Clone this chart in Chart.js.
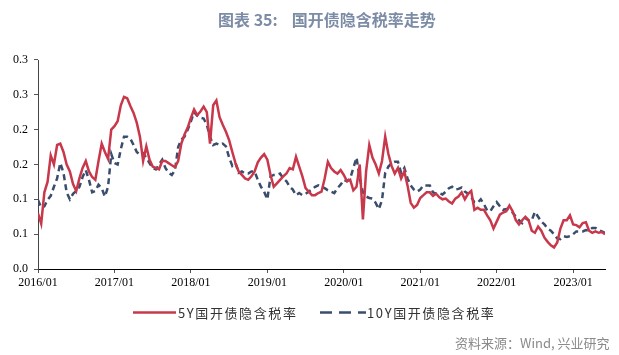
<!DOCTYPE html>
<html><head><meta charset="utf-8">
<script src="https://cdn.jsdelivr.net/npm/chart.js@4.4.1/dist/chart.umd.min.js"></script>
<style>
html,body{margin:0;padding:0;background:#fff;}
#wrap{position:relative;width:619px;height:355px;overflow:hidden;background:#fff;}
#c{position:absolute;left:0;top:0;}
#title{position:absolute;left:218px;top:7px;font:bold 16px "Noto Sans CJK SC","Noto Sans",sans-serif;color:#7d8ca6;white-space:nowrap;}
#title span{margin-left:14px;}
.leg{position:absolute;top:303px;font:13px "Noto Sans CJK SC","Liberation Serif",serif;color:#333;letter-spacing:1.6px;white-space:nowrap;}
.legline{position:absolute;top:310px;}
#src{position:absolute;left:455px;top:333px;font:13px "Noto Sans CJK SC","Noto Sans",sans-serif;color:#8a8a8a;white-space:nowrap;}
</style>
</head><body>
<div id="wrap">
<canvas id="c" width="619" height="355"></canvas>
<div id="title">图表 35:<span>国开债隐含税率走势</span></div>
<svg class="legline" style="left:133px" width="44" height="5"><line x1="0" y1="2.5" x2="43" y2="2.5" stroke="#c8374a" stroke-width="2.5"/></svg>
<div class="leg" id="leg1" style="left:178px"></div>
<svg class="legline" style="left:320px" width="46" height="5"><line x1="0" y1="2.5" x2="46" y2="2.5" stroke="#3b4d6d" stroke-width="2.5" stroke-dasharray="12,7"/></svg>
<div class="leg" id="leg2" style="left:367px"></div>
<div id="src">资料来源：Wind, 兴业研究</div>
</div>
<script>
// Series names
const seriesNames = ['5Y国开债隐含税率', '10Y国开债隐含税率'];
// X-axis tick labels (one per January)
const yearLabels = ['2016/01','2017/01','2018/01','2019/01','2020/01','2021/01','2022/01','2023/01'];
// Y-axis tick labels (ticks every 0.05, shown with one decimal)
const yTickLabels = ['0.0','0.1','0.1','0.2','0.2','0.3','0.3'];
// Sampling: one observation every half month starting 2016/01
const stepMonths = 0.5;

// 5Y implied tax rate
const fiveYear = [
0.08,0.065,0.11,0.125,0.163,0.15,0.178,0.18,0.168,0.15,0.14,0.122,0.112,0.13,0.145,0.155,0.14,0.132,0.128,0.155,
0.18,0.168,0.158,0.2,0.205,0.212,0.235,0.247,0.245,0.234,0.224,0.21,0.19,0.155,0.176,0.157,0.147,0.145,0.143,0.155,
0.155,0.152,0.149,0.146,0.155,0.18,0.193,0.203,0.217,0.229,0.221,0.226,0.233,0.225,0.18,0.235,0.242,0.218,0.207,0.197,
0.185,0.168,0.152,
0.14,0.135,0.13,0.128,0.133,0.14,0.153,0.16,0.165,0.157,0.135,0.118,0.123,0.128,0.133,0.137,0.145,0.143,0.161,0.147,
0.133,0.116,0.111,0.106,0.106,0.109,0.111,0.13,0.154,0.145,0.14,0.137,0.142,0.135,0.126,0.128,0.113,0.118,0.15,0.071,
0.14,0.178,0.16,0.15,0.137,0.155,0.19,0.165,0.148,0.137,0.145,0.13,0.14,0.12,0.095,0.088,0.092,0.102,0.106,
0.11,0.11,0.105,0.108,0.103,0.1,0.101,0.097,0.094,0.101,0.104,0.11,0.1,0.108,0.112,0.085,0.088,0.085,0.085,0.077,
0.07,0.058,0.068,0.078,0.081,0.083,0.091,0.083,0.07,0.064,0.07,0.075,0.07,0.055,0.052,0.061,0.055,0.045,0.039,0.034,
0.031,0.038,0.058,0.07,0.07,0.077,0.064,0.063,0.06,0.066,0.067,0.055,0.052,0.054,0.052,0.053,0.05
];
// 10Y implied tax rate
const tenYear = [
0.099,0.088,0.09,0.099,0.105,0.118,0.13,0.152,0.138,0.11,0.1,0.108,0.112,0.118,0.132,0.142,0.128,0.11,0.112,0.121,
0.116,0.104,0.118,0.165,0.152,0.15,0.172,0.19,0.19,0.187,0.178,0.168,0.164,0.166,0.16,0.152,0.145,0.143,0.15,0.157,
0.145,0.138,0.135,0.142,0.175,0.186,0.19,0.2,0.212,0.225,0.22,0.217,0.216,0.207,0.19,0.178,0.18,0.178,0.18,0.176,
0.16,0.148,0.152,
0.138,0.14,0.137,0.137,0.14,0.14,0.128,0.118,0.111,0.1,0.133,0.135,0.135,0.137,0.13,0.126,0.118,0.114,0.106,0.109,
0.106,0.108,0.111,0.114,0.118,0.12,0.118,0.116,0.113,0.111,0.109,0.116,0.121,0.128,0.126,0.13,0.145,0.16,0.13,0.11,
0.104,0.102,0.101,0.095,0.086,0.099,0.138,0.147,0.152,0.154,0.154,0.138,0.145,0.13,0.12,0.114,0.111,0.114,0.12,
0.12,0.12,0.11,0.108,0.109,0.107,0.111,0.116,0.118,0.114,0.115,0.117,0.111,0.108,0.103,0.096,0.095,0.1,0.093,0.084,
0.083,0.09,0.096,0.09,0.085,0.086,0.085,0.081,0.075,0.07,0.066,0.073,0.07,0.07,0.082,0.075,0.068,0.064,0.058,0.055,
0.05,0.044,0.043,0.047,0.046,0.047,0.05,0.054,0.054,0.054,0.056,0.055,0.059,0.059,0.056,0.054,0.052
];

document.getElementById('leg1').textContent = seriesNames[0];
document.getElementById('leg2').textContent = seriesNames[1];

const toPts = arr => arr.map((v, i) => ({x: i * stepMonths, y: v}));
const axisFont = {family: '"Liberation Serif", "Times New Roman", serif', size: 12};

new Chart(document.getElementById('c'), {
  type: 'line',
  data: {
    datasets: [
      {label: seriesNames[0], data: toPts(fiveYear), borderColor: '#c8374a', borderWidth: 2.5,
       pointRadius: 0, tension: 0, fill: false},
      {label: seriesNames[1], data: toPts(tenYear), borderColor: '#3b4d6d', borderWidth: 2.5,
       borderDash: [6, 4], pointRadius: 0, tension: 0, fill: false}
    ]
  },
  options: {
    responsive: false, animation: false, events: [],
    layout: {padding: {top: 60, right: 14, left: 0, bottom: 0}},
    plugins: {legend: {display: false}, title: {display: false}, tooltip: {enabled: false}},
    scales: {
      x: {
        type: 'linear', min: 0, max: 89,
        afterBuildTicks: s => { s.ticks = yearLabels.map((l, i) => ({value: i * 12})); },
        afterFit: s => { s.height = 86; },
        ticks: {autoSkip: false, maxRotation: 0, color: '#000', font: axisFont, padding: 3,
                callback: v => yearLabels[Math.round(v / 12)]},
        grid: {display: true, drawOnChartArea: false, drawTicks: true, tickLength: 4, color: '#555'},
        border: {display: true, color: '#000', width: 1}
      },
      y: {
        min: 0, max: 0.3,
        afterBuildTicks: s => { s.ticks = yTickLabels.map((l, i) => ({value: i * 0.05})); },
        afterFit: s => { s.width = 38; },
        ticks: {color: '#000', font: axisFont, padding: 6,
                callback: (v, i) => yTickLabels[i]},
        grid: {display: true, drawOnChartArea: false, drawTicks: true, tickLength: 4, color: '#555'},
        border: {display: true, color: '#444', width: 1}
      }
    }
  }
});
</script>
</body></html>
